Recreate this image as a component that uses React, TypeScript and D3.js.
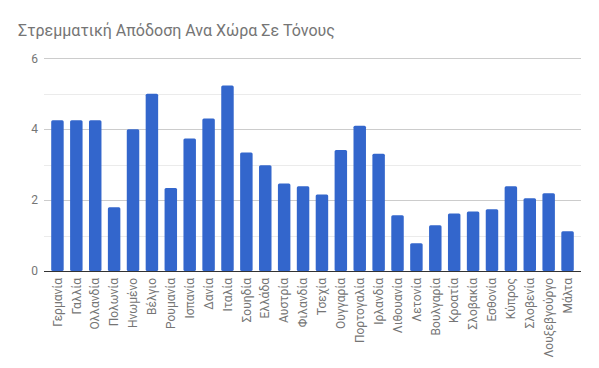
import React, { useEffect, useRef } from 'react'
import * as d3 from 'd3'

const title = 'Στρεμματική Απόδοση Ανα Χώρα Σε Τόνους'

const countries = [
  'Γερμανία', 'Γαλλία', 'Ολλανδία', 'Πολωνία', 'Ηνωμένο', 'Βέλγιο', 'Ρουμανία',
  'Ισπανία', 'Δανία', 'Ιταλία', 'Σουηδία', 'Ελλάδα', 'Αυστρία', 'Φιλανδία',
  'Τσεχία', 'Ουγγαρία', 'Πορτογαλία', 'Ιρλανδία', 'Λιθουανία', 'Λετονία',
  'Βουλγαρία', 'Κροατία', 'Σλοβακία', 'Εσθονία', 'Κύπρος', 'Σλοβενία',
  'Λουξεβγούργο', 'Μάλτα',
]

const yields = [
  4.25, 4.25, 4.25, 1.8, 4.0, 5.0, 2.34, 3.74, 4.3, 5.23, 3.34, 2.98, 2.47, 2.39,
  2.16, 3.41, 4.1, 3.31, 1.57, 0.78, 1.29, 1.62, 1.68, 1.74, 2.39, 2.05, 2.19, 1.12,
]

const yTicks = [0, 2, 4, 6]
const yMinor = [1, 3, 5]

const W = 599
const H = 368

export default function App() {
  const svgRef = useRef<SVGSVGElement>(null)

  useEffect(() => {
    if (!svgRef.current) return
    const svg = d3.select(svgRef.current)
    svg.selectAll('*').remove()

    const font = 'Roboto, Arial, sans-serif'
    const gridLeft = 44
    const gridRight = 581

    const x = d3.scaleBand<string>()
      .domain(countries)
      .range([48, 577])
      .paddingInner(0.34)
      .paddingOuter(0.17)

    const y = d3.scaleLinear().domain([0, 6]).range([271, 58.3])

    svg.append('rect').attr('width', W).attr('height', H).attr('fill', '#fff')

    svg.append('text')
      .attr('x', 18)
      .attr('y', 36)
      .style('font-family', font)
      .style('font-size', '16px')
      .attr('fill', '#757575')
      .text(title)

    // minor gridlines
    svg.append('g').selectAll('line')
      .data(yMinor)
      .join('line')
      .attr('x1', gridLeft).attr('x2', gridRight)
      .attr('y1', d => Math.round(y(d)) + 0.5)
      .attr('y2', d => Math.round(y(d)) + 0.5)
      .attr('stroke', '#ebebeb')

    // major gridlines
    svg.append('g').selectAll('line')
      .data(yTicks.filter(t => t !== 0))
      .join('line')
      .attr('x1', gridLeft).attr('x2', gridRight)
      .attr('y1', d => Math.round(y(d)) + 0.5)
      .attr('y2', d => Math.round(y(d)) + 0.5)
      .attr('stroke', '#cccccc')

    svg.append('g').selectAll('text')
      .data(yTicks)
      .join('text')
      .attr('x', 38)
      .attr('y', d => y(d))
      .attr('dy', '0.35em')
      .attr('text-anchor', 'end')
      .style('font-family', font)
      .style('font-size', '12px')
      .attr('fill', '#757575')
      .text(d => String(d))

    svg.append('g').selectAll('rect')
      .data(yields)
      .join('rect')
      .attr('x', (_, i) => x(countries[i]) as number)
      .attr('width', x.bandwidth())
      .attr('y', d => y(d))
      .attr('height', d => y(0) - y(d))
      .attr('rx', 1.5)
      .attr('fill', '#3366cc')

    // baseline
    svg.append('line')
      .attr('x1', gridLeft).attr('x2', gridRight)
      .attr('y1', Math.round(y(0)) + 0.5).attr('y2', Math.round(y(0)) + 0.5)
      .attr('stroke', '#333333')

    svg.append('g').selectAll('text')
      .data(countries)
      .join('text')
      .attr('transform', d => `translate(${(x(d) as number) + x.bandwidth() / 2},278) rotate(-90)`)
      .attr('dy', '0.35em')
      .attr('text-anchor', 'end')
      .style('font-family', font)
      .style('font-size', '12px')
      .attr('fill', '#757575')
      .text(d => d)
  }, [])

  return (
    <svg
      ref={svgRef}
      width={W}
      height={H}
      style={{ position: 'absolute', left: 0, top: 0 }}
    />
  )
}
